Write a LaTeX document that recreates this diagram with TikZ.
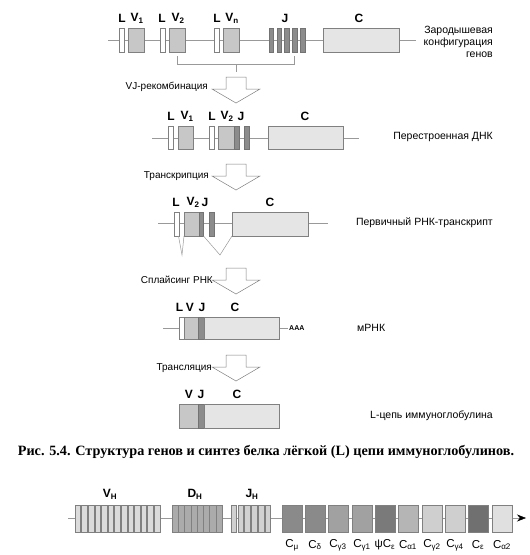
\documentclass[tikz,border=0pt]{standalone}
\usepackage{fontspec}
\setmainfont{Liberation Serif}
\newfontfamily\arial{Liberation Sans}
\usetikzlibrary{arrows.meta}

\tikzset{
  dnaline/.style = {draw = black!40, line width = 0.5pt},
  lexon/.style = {draw = black!50, fill = white, line width = 0.4pt},
  vexon/.style = {draw = black!50, fill = black!22, line width = 0.4pt},
  jexon/.style = {draw = black!55, fill = black!45, line width = 0.4pt},
  cexon/.style = {draw = black!50, fill = black!10, line width = 0.4pt},
  genename/.style = {font = \arial\bfseries\fontsize{12}{14}\selectfont, inner sep = 0pt},
  stepname/.style = {font = \arial\fontsize{10}{12}\selectfont, inner sep = 0pt},
  dnaname/.style = {font = \arial\fontsize{10.5}{12}\selectfont, inner sep = 0pt},
  bigarrow/.style = {draw = black!50, fill = white, line width = 0.5pt},
  hbox/.style = {draw = black!50, line width = 0.4pt},
  cname/.style = {font = \arial\fontsize{11.5}{14}\selectfont, inner sep = 0pt},
}

\begin{document}
\begin{tikzpicture}[x = 1pt, y = -1pt]
    \useasboundingbox (0, 0) rectangle (530, 555);

    % germline
    \draw[dnaline] (108, 40) -- (416, 40);
    \draw[lexon] (119, 28) rectangle (124, 52);
    \draw[vexon] (128, 28) rectangle (144, 52);
    \draw[lexon] (160, 28) rectangle (165, 52);
    \draw[vexon] (169, 28) rectangle (185, 52);
    \draw[lexon] (214, 28) rectangle (219, 52);
    \draw[vexon] (223, 28) rectangle (239, 52);
    \foreach \i in {0, ..., 4}
      \draw[jexon] (269 + 7.8 * \i, 28) rectangle +(4.5, 24);
    \draw[cexon] (323, 28) rectangle (399, 52);

    \node[genename] (gl1) at (122, 18) {L};
    \node[genename] (gv1) at (137, 18) {V\textsubscript{1}};
    \node[genename] (gl2) at (162, 18) {L};
    \node[genename] (gv2) at (178, 18) {V\textsubscript{2}};
    \node[genename] (gl3) at (217, 18) {L};
    \node[genename] (gvn) at (232, 18) {V\textsubscript{n}};
    \node[genename] (gj) at (285, 18) {J};
    \node[genename] (gc) at (359, 18) {C};
    \node[dnaname, anchor = east, align = right] (germ) at (493, 42)
      {Зародышевая\\конфигурация\\генов};

    \draw[dnaline] (177, 56) -- (177, 64) -- (294, 64) -- (294, 56);
    \draw[dnaline] (236, 64) -- (236, 72);

    % arrows between steps
    \foreach \t in {77, 164, 268, 355}
      \draw[bigarrow] (226, \t) -- (246, \t) -- (246, \t + 12) -- (260, \t + 12)
        -- (236, \t + 26) -- (212, \t + 12) -- (226, \t + 12) -- cycle;

    \node[stepname, anchor = east] (recomb) at (208, 87) {VJ-рекомбинация};

    % rearranged DNA
    \draw[dnaline] (152, 138) -- (359, 138);
    \draw[lexon] (168, 126) rectangle (173, 149);
    \draw[vexon] (178, 126) rectangle (193, 149);
    \draw[lexon] (209, 126) rectangle (214, 149);
    \draw[vexon] (218, 126) rectangle (234, 149);
    \draw[jexon] (234, 126) rectangle (239, 149);
    \draw[jexon] (244, 126) rectangle (249, 149);
    \draw[cexon] (268, 126) rectangle (343, 149);

    \node[genename] (rl1) at (171, 116) {L};
    \node[genename] (rv1) at (187, 116) {V\textsubscript{1}};
    \node[genename] (rl2) at (212, 116) {L};
    \node[genename] (rv2) at (227, 116) {V\textsubscript{2}};
    \node[genename] (rj) at (241, 116) {J};
    \node[genename] (rc) at (305, 116) {C};
    \node[dnaname, anchor = east] (rearr) at (493, 137) {Перестроенная ДНК};

    \node[stepname, anchor = east] (transcr) at (209, 176) {Транскрипция};

    % primary transcript
    \draw[dnaline] (158, 223) -- (328, 223);
    \draw[lexon] (174, 212) rectangle (179, 236);
    \draw[vexon] (184, 212) rectangle (199, 236);
    \draw[jexon] (199, 212) rectangle (203.5, 236);
    \draw[jexon] (209, 212) rectangle (214, 236);
    \draw[cexon] (232, 212) rectangle (308, 236);
    \draw[dnaline] (178.5, 236) -- (182, 255) -- (184, 236);
    \draw[dnaline] (203.5, 236) -- (220, 255) -- (232, 236);

    \node[genename] (pl) at (176, 202) {L};
    \node[genename] (pv) at (193, 202) {V\textsubscript{2}};
    \node[genename] (pj) at (205, 202) {J};
    \node[genename] (pc) at (270, 202) {C};
    \node[dnaname, anchor = east] (primary) at (493, 223) {Первичный РНК-транскрипт};

    \node[stepname, anchor = east] (splice) at (213, 280) {Сплайсинг РНК};

    % mRNA
    \draw[dnaline] (163, 328) -- (288, 328);
    \draw[lexon] (179, 317) rectangle (184, 339);
    \draw[vexon] (184, 317) rectangle (198, 339);
    \draw[jexon] (198, 317) rectangle (204, 339);
    \draw[cexon] (204, 317) rectangle (279, 339);
    \node[font = \arial\bfseries\fontsize{7}{8}\selectfont, inner sep = 0pt, anchor = west] (polya)
      at (289, 328) {AAA};

    \node[genename] (ml) at (179.5, 307) {L};
    \node[genename] (mv) at (190, 307) {V};
    \node[genename] (mj) at (202, 307) {J};
    \node[genename] (mc) at (235, 307) {C};
    \node[dnaname, anchor = west] (mrna) at (357, 328) {мРНК};

    \node[stepname, anchor = east] (transl) at (212, 368) {Трансляция};

    % light chain
    \draw[vexon] (179, 404) rectangle (198, 428);
    \draw[jexon] (198, 404) rectangle (204, 428);
    \draw[cexon] (204, 404) rectangle (279, 428);

    \node[genename] (lv) at (189, 394) {V};
    \node[genename] (lj) at (201, 394) {J};
    \node[genename] (lc) at (237, 394) {C};
    \node[dnaname, anchor = east] (chain) at (493, 416) {L-цепь иммуноглобулина};

    % caption
    \node[font = \bfseries\fontsize{14.2}{16}\selectfont, inner sep = 0pt] (caption) at (266, 452)
      {Рис. 5.4. Структура генов и синтез белка лёгкой (L) цепи иммуноглобулинов.};

    % heavy chain locus
    \draw[dnaline, -{Stealth[length = 9pt, width = 7pt, color = black, fill = black]}] (68, 518) -- (526, 518);
    \foreach \i in {0, ..., 12}
      \draw[hbox, fill = black!14] (75 + 6.6 * \i, 505) rectangle +(5.6, 27);
    \foreach \i in {0, ..., 7}
      \draw[hbox, fill = black!33] (172 + 6.25 * \i, 505) rectangle +(6.25, 27);
    \foreach \i in {0, ..., 5}
      \draw[hbox, fill = black!18] (231 + 6.8 * \i, 505) rectangle +(5.6, 27);

    \node[genename] (vh) at (110, 494) {V\textsubscript{H}};
    \node[genename] (dh) at (195, 494) {D\textsubscript{H}};
    \node[genename] (jh) at (252, 494) {J\textsubscript{H}};

    \foreach \x/\g/\n in {282/46/C\textsubscript{μ}, 305/46/C\textsubscript{δ},
        328/37/C\textsubscript{γ3}, 352/37/C\textsubscript{γ1}, 375/52/ψC\textsubscript{ε},
        398/29/C\textsubscript{α1}, 422/19/C\textsubscript{γ2}, 445/19/C\textsubscript{γ4},
        468/56/C\textsubscript{ε}, 492/12/C\textsubscript{α2}}
    {
      \draw[hbox, fill = black!\g] (\x, 505) rectangle +(20, 27);
      \node[cname] at (\x + 10, 545) {\n};
    }
  \end{tikzpicture}
\end{document}
